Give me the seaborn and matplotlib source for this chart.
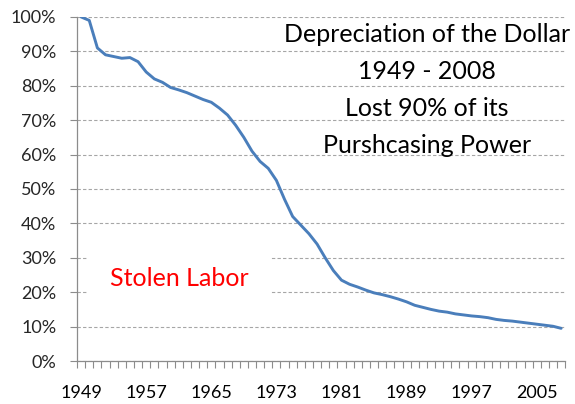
import numpy as np
import pandas as pd
import matplotlib
matplotlib.use("Agg")
import matplotlib.pyplot as plt
import seaborn as sns
from matplotlib.ticker import FixedLocator, PercentFormatter

# purchasing power of the dollar (% of 1949 value)
years = list(range(1949, 2009))
power = [100, 99, 91, 89, 88.5, 88, 88.2, 87, 84, 82,
         81, 79.5, 78.8, 78, 77, 76, 75.2, 73.5, 71.5, 68.5,
         65, 61, 58, 56, 52.5, 47, 42, 39.5, 37, 34,
         30, 26.3, 23.5, 22.3, 21.5, 20.6, 19.8, 19.3, 18.7, 18,
         17.2, 16.2, 15.6, 15, 14.5, 14.2, 13.7, 13.4, 13.1, 12.9,
         12.6, 12.1, 11.8, 11.6, 11.3, 11.0, 10.7, 10.4, 10.1, 9.5]
label_years = [1949, 1957, 1965, 1973, 1981, 1989, 1997, 2005]
title_lines = ["Depreciation of the Dollar", "1949 - 2008",
               "Lost 90% of its", "Purshcasing Power"]

df = pd.DataFrame({"year": years, "power": power})

sns.set_style("white")
plt.rcParams["font.family"] = ["Lato", "DejaVu Sans"]

fig = plt.figure(figsize=(5.75, 4.04), dpi=100)
ax = fig.add_axes([0.134, 0.1064, 0.849, 0.8516])

sns.lineplot(data=df, x="year", y="power", color="#4a7ebb", linewidth=2.1, ax=ax)

ax.set_xlim(1948.5, 2008.5)
ax.set_ylim(0, 100)
ax.set_yticks(range(0, 101, 10))
ax.yaxis.set_major_formatter(PercentFormatter(decimals=0))
ax.set_xticks(label_years)
ax.xaxis.set_minor_locator(FixedLocator(np.arange(1948.5, 2009, 1)))
ax.tick_params(axis="x", which="major", length=0, pad=17, labelsize=13, colors="black")
ax.tick_params(axis="x", which="minor", length=5, width=0.8, color="#8c8c8c", direction="out")
ax.tick_params(axis="y", which="major", length=5, width=0.8, color="#8c8c8c", labelsize=13, pad=10)
ax.tick_params(bottom=True, left=True, which="both")
ax.set_xlabel("")
ax.set_ylabel("")

ax.yaxis.grid(True, color="#a6a6a6", linestyle=(0, (3, 2)), linewidth=0.8)
ax.set_axisbelow(True)
for side in ["top", "right"]:
    ax.spines[side].set_visible(False)
for side in ["left", "bottom"]:
    ax.spines[side].set_color("#8c8c8c")
    ax.spines[side].set_linewidth(0.9)

ax.text(0.717, 0.788, "\n".join(title_lines), transform=ax.transAxes,
        ha="center", va="center", fontsize=18, linespacing=1.75, color="black")
ax.text(0.21, 0.241, "Stolen Labor", transform=ax.transAxes, ha="center", va="center",
        fontsize=18, color="#ff0000",
        bbox=dict(facecolor="white", edgecolor="none", pad=16))

fig.savefig("out.png", dpi=100)
